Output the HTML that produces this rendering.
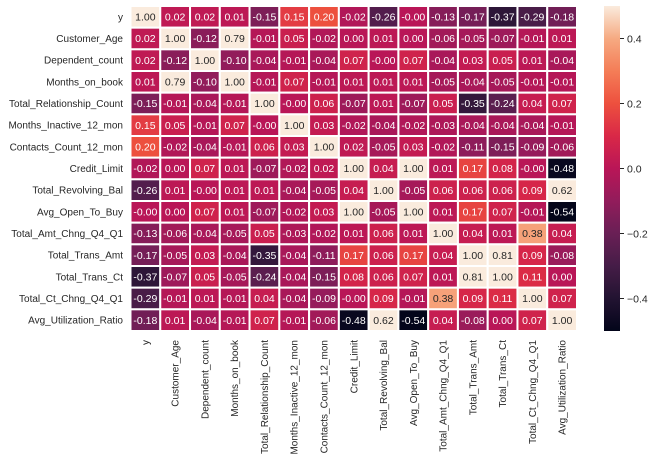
<!DOCTYPE html>
<html><head><meta charset="utf-8"><style>
html,body{margin:0;padding:0;background:#fff;}
svg{display:block;font-family:"Liberation Sans","DejaVu Sans",sans-serif;}
</style></head><body>
<svg id="chart" width="654" height="462" viewBox="0 0 654 462" xmlns="http://www.w3.org/2000/svg">
<defs><linearGradient id="cbg" x1="0" y1="1" x2="0" y2="0"></linearGradient></defs>
<g id="cells"></g>
<g id="rowlabels"></g>
<g id="collabels"></g>
<g id="cbar"></g>
</svg>
<script>
const labels = ["y","Customer_Age","Dependent_count","Months_on_book","Total_Relationship_Count","Months_Inactive_12_mon","Contacts_Count_12_mon","Credit_Limit","Total_Revolving_Bal","Avg_Open_To_Buy","Total_Amt_Chng_Q4_Q1","Total_Trans_Amt","Total_Trans_Ct","Total_Ct_Chng_Q4_Q1","Avg_Utilization_Ratio"];
const row0 = [1.00,0.02,0.02,0.01,-0.15,0.15,0.20,-0.02,-0.26,-0.00,-0.13,-0.17,-0.37,-0.29,-0.18];
const row1 = [0.02,1.00,-0.12,0.79,-0.01,0.05,-0.02,0.00,0.01,0.00,-0.06,-0.05,-0.07,-0.01,0.01];
const row2 = [0.02,-0.12,1.00,-0.10,-0.04,-0.01,-0.04,0.07,-0.00,0.07,-0.04,0.03,0.05,0.01,-0.04];
const row3 = [0.01,0.79,-0.10,1.00,-0.01,0.07,-0.01,0.01,0.01,0.01,-0.05,-0.04,-0.05,-0.01,-0.01];
const row4 = [-0.15,-0.01,-0.04,-0.01,1.00,-0.00,0.06,-0.07,0.01,-0.07,0.05,-0.35,-0.24,0.04,0.07];
const row5 = [0.15,0.05,-0.01,0.07,-0.00,1.00,0.03,-0.02,-0.04,-0.02,-0.03,-0.04,-0.04,-0.04,-0.01];
const row6 = [0.20,-0.02,-0.04,-0.01,0.06,0.03,1.00,0.02,-0.05,0.03,-0.02,-0.11,-0.15,-0.09,-0.06];
const row7 = [-0.02,0.00,0.07,0.01,-0.07,-0.02,0.02,1.00,0.04,1.00,0.01,0.17,0.08,-0.00,-0.48];
const row8 = [-0.26,0.01,-0.00,0.01,0.01,-0.04,-0.05,0.04,1.00,-0.05,0.06,0.06,0.06,0.09,0.62];
const row9 = [-0.00,0.00,0.07,0.01,-0.07,-0.02,0.03,1.00,-0.05,1.00,0.01,0.17,0.07,-0.01,-0.54];
const row10 = [-0.13,-0.06,-0.04,-0.05,0.05,-0.03,-0.02,0.01,0.06,0.01,1.00,0.04,0.01,0.38,0.04];
const row11 = [-0.17,-0.05,0.03,-0.04,-0.35,-0.04,-0.11,0.17,0.06,0.17,0.04,1.00,0.81,0.09,-0.08];
const row12 = [-0.37,-0.07,0.05,-0.05,-0.24,-0.04,-0.15,0.08,0.06,0.07,0.01,0.81,1.00,0.11,0.00];
const row13 = [-0.29,-0.01,0.01,-0.01,0.04,-0.04,-0.09,-0.00,0.09,-0.01,0.38,0.09,0.11,1.00,0.07];
const row14 = [-0.18,0.01,-0.04,-0.01,0.07,-0.01,-0.06,-0.48,0.62,-0.54,0.04,-0.08,0.00,0.07,1.00];
const matrix = [row0,row1,row2,row3,row4,row5,row6,row7,row8,row9,row10,row11,row12,row13,row14];
const cbTicks = [0.4,0.2,0.0,-0.2,-0.4];
const vmin = -0.5, vmax = 0.5;

const NS = "http://www.w3.org/2000/svg";
const X0 = 130.5, X1 = 577, Y0 = 6, Y1 = 331;
const n = labels.length;
const cw = (X1 - X0) / n, ch = (Y1 - Y0) / n;
const xPos = i => X0 + i * cw;
const yPos = j => Y0 + j * ch;
const stops = [[0,[3,5,26]],[0.1,[34,19,49]],[0.2,[69,28,71]],[0.3,[105,31,85]],[0.4,[146,28,91]],[0.5,[185,22,87]],[0.6,[217,40,71]],[0.7,[237,80,62]],[0.8,[244,125,87]],[0.9,[246,170,130]],[1.0,[250,235,221]]];
function cmap(t){
  t = Math.max(0, Math.min(1, t));
  for (let k = 1; k < stops.length; k++) {
    if (t <= stops[k][0]) {
      const a = stops[k-1], b = stops[k], f = (t - a[0]) / (b[0] - a[0]);
      return a[1].map((c, i) => Math.round(c + f * (b[1][i] - c)));
    }
  }
  return stops[stops.length-1][1];
}
const norm = v => (v - vmin) / (vmax - vmin);
function mk(tag, attrs, parent){ const e = document.createElementNS(NS, tag); for (const k in attrs) e.setAttribute(k, attrs[k]); parent.appendChild(e); return e; }

const cells = document.getElementById("cells");
matrix.forEach((row, r) => {
  row.forEach((v, c) => {
    const col = cmap(norm(v));
    const rect = mk("rect", {x: xPos(c), y: yPos(r), width: cw, height: ch, fill: `rgb(${col.join(",")})`, stroke: "#fff", "stroke-width": 2}, cells);
    
    
    const lum = (0.299*col[0] + 0.587*col[1] + 0.114*col[2]) / 255;
    const t = mk("text", {x: xPos(c) + cw/2, y: yPos(r) + ch/2 + 3.7, "text-anchor": "middle", "font-size": 10.5, fill: lum > 0.55 ? "#262626" : "#fff"}, cells);
    t.textContent = v.toFixed(2);
    
    
  });
});
const negZero = [[0,9],[2,8],[4,5],[7,13],[13,7],[8,2],[5,4],[9,0]];
const texts = cells.querySelectorAll("text");
negZero.forEach(([r,c]) => { texts[r*n + c].textContent = "-0.00"; });

const rl = document.getElementById("rowlabels");
labels.forEach((l, j) => {
  const t = mk("text", {x: 123, y: yPos(j) + ch/2 + 3.5, "text-anchor": "end", "font-size": 10, fill: "#262626"}, rl);
  t.textContent = l;
  
  
});
const cl = document.getElementById("collabels");
labels.forEach((l, i) => {
  const x = xPos(i) + cw/2 + 3.5, y = 340;
  const t = mk("text", {x: x, y: y, "text-anchor": "end", "font-size": 10, fill: "#262626", transform: `rotate(-90 ${x} ${y})`}, cl);
  t.textContent = l;
  
  
});

const grad = document.getElementById("cbg");
for (let k = 0; k <= 20; k++) {
  const col = cmap(k/20);
  mk("stop", {offset: (k/20), "stop-color": `rgb(${col.join(",")})`}, grad);
}
const cb = document.getElementById("cbar");
const cbY = v => Y1 - (v - vmin) / (vmax - vmin) * (Y1 - Y0);
const bar = mk("rect", {x: 604, y: Y0, width: 16, height: Y1 - Y0, fill: "url(#cbg)"}, cb);


cbTicks.forEach(v => {
  const y = cbY(v);
  const ln = mk("line", {x1: 620, x2: 624, y1: y, y2: y, stroke: "#262626", "stroke-width": 1}, cb);
  
  
  const t = mk("text", {x: 627, y: y + 4, "font-size": 10.5, fill: "#262626"}, cb);
  t.textContent = v.toFixed(1).replace("-", "\u2212");
  
  
});
</script>
</body></html>
